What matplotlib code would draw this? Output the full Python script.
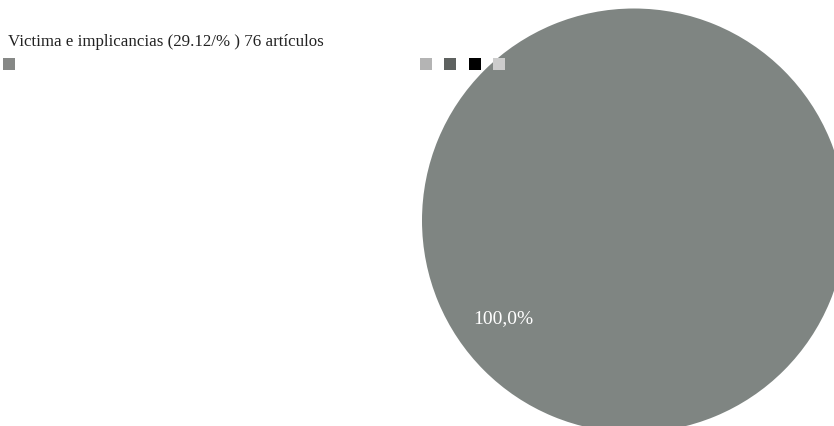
import matplotlib
matplotlib.use("Agg")
import matplotlib.pyplot as plt
from matplotlib.patches import Rectangle

plt.rcParams['font.family'] = ['Liberation Serif', 'DejaVu Serif']

# datos
categorias = ["Victima e implicancias (29.12/% ) 76 artículos"]
articulos = [76]
color_pie = "#7f8582"
color_titulo = "#868886"
colores_leyenda = ["#b4b4b4", "#5e6260", "#000000", "#cccccc"]

W, H = 834, 427
fig = plt.figure(figsize=(W / 100, H / 100), dpi=100)

# eje del pastel (cuadrado en pixeles)
cx, cy, r = 634, 221.5, 212
ax = fig.add_axes([(cx - r) / W, (H - cy - r) / H, 2 * r / W, 2 * r / H])
# angulo exacto en binario para que el circulo completo no se degenere
wedges, texts, autotexts = ax.pie(
    articulos, colors=[color_pie], startangle=36.5625, radius=1,
    autopct=lambda p: ("%.1f%%" % p).replace(".", ","), pctdistance=0.767,
    textprops=dict(color="white", fontsize=14),
)
ax.set_xlim(-1.0, 1.0)
ax.set_ylim(-1.0, 1.0)
ax.set_axis_off()

# titulo y cuadrito
fig.text(8 / W, 1 - 45.5 / H, categorias[0], fontsize=12.2, color="#222222",
         va="baseline", ha="left")
fig.add_artist(Rectangle((3 / W, 1 - 71 / H), 12 / W, 12 / H,
                         transform=fig.transFigure, facecolor=color_titulo,
                         edgecolor="none"))

# leyenda sin etiquetas
for i, c in enumerate(colores_leyenda):
    x0 = 420 + 24.3 * i
    fig.add_artist(Rectangle((x0 / W, 1 - 71 / H), 12 / W, 12.5 / H,
                             transform=fig.transFigure, facecolor=c,
                             edgecolor="none", zorder=5))

fig.savefig("out.png", dpi=100)
